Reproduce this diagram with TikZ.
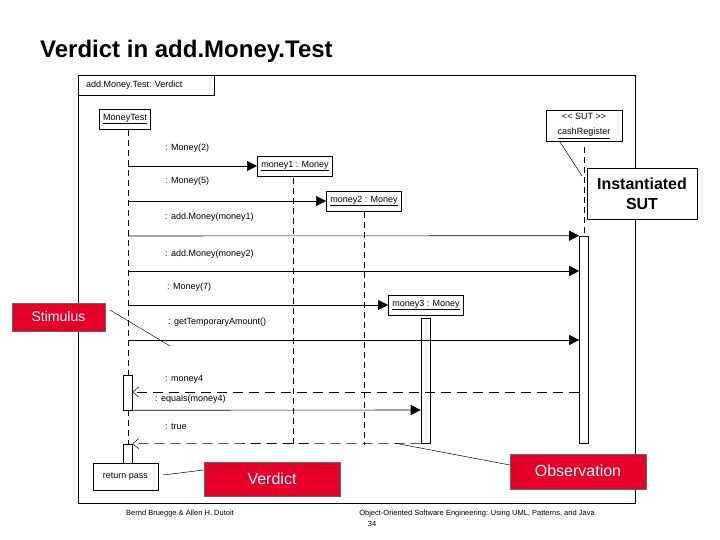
\documentclass[tikz,border=0pt]{standalone}
\usepackage{fontspec}
\setmainfont{Liberation Sans}
\usetikzlibrary{arrows.meta}
\definecolor{vred}{RGB}{230,0,40}
\begin{document}
\begin{tikzpicture}[x=1pt,y=-1pt,
  obj/.style={draw,line width=0.6pt,fill=white,inner xsep=4pt,inner ysep=5pt,font=\fontsize{9}{11}\selectfont},
  lbl/.style={anchor=west,inner sep=0pt,font=\fontsize{9}{11}\selectfont},
  life/.style={dash pattern=on 6pt off 4pt,line width=0.6pt},
  msg/.style={-{Triangle[length=10pt,width=10pt]},line width=0.6pt},
  ret/.style={-{Straight Barb[length=6pt,width=10pt,line width=0.5pt]},dash pattern=on 10pt off 6pt,line width=0.6pt},
  act/.style={draw,fill=white,line width=0.6pt},
  redbox/.style={draw=black!60,fill=vred,text=white,minimum height=28pt},
  note/.style={line width=0.5pt}]
\useasboundingbox (0,0) rectangle (720,540);
\node[anchor=west,inner sep=0pt,font=\bfseries\fontsize{24}{30}\selectfont] (title) at (40,51) {Verdict in add.Money.Test};
\draw[line width=0.7pt] (78,75) rectangle (635,503);
\node[draw,line width=0.7pt,anchor=north west,minimum width=136pt,minimum height=20pt,inner sep=0pt] (frame) at (78,75) {};
\node[lbl] (ftxt) at (86,85) {add.Money.Test: Verdict};
% lifelines
\coordinate (mtb) at (128,463);
\coordinate (m1b) at (293,445);
\coordinate (m2b) at (364,445);
\draw[life] (128,130) -- (mtb);
\draw[life] (293,178) -- (m1b);
\draw[life] (364,212) -- (m2b);
\draw[life] (584,147) -- (584,236);
% objects
\node[obj] (mt) at (125,119) {\underline{MoneyTest}};
\node[obj,align=center,minimum width=76pt,inner ysep=3pt] (cr) at (584,126) {{<}{<} SUT {>}{>}\\[4pt]\underline{cashRegister}};
\node[obj] (m1) at (295,166) {\underline{money1 : Money}};
\node[obj] (m2) at (364,201) {\underline{money2 : Money}};
\node[obj] (m3) at (426,305) {\underline{money3 : Money}};
% activations
\node[act,minimum width=9pt,minimum height=207pt,inner sep=0pt] (acr) at (584,339.5) {};
\node[act,minimum width=9pt,minimum height=125pt,inner sep=0pt] (am3) at (425.5,380.5) {};
\node[act,minimum width=9pt,minimum height=35pt,inner sep=0pt] (amt1) at (127.5,392.5) {};
\node[act,minimum width=9pt,minimum height=21pt,inner sep=0pt] (amt2) at (127.5,454.5) {};
% messages
\node[lbl] (l1) at (165,148) {: Money(2)};
\draw[msg] (128,166) -- (m1.west);
\node[lbl] (l2) at (165,181) {: Money(5)};
\draw[msg] (128,201) -- (m2.west);
\node[lbl] (l3) at (165,217) {: add.Money(money1)};
\draw[msg] (128,236) -- (acr.north west);
\node[lbl] (l4) at (165,254) {: add.Money(money2)};
\draw[msg] (128,271) -- (acr.west |- 0,271);
\node[lbl] (l5) at (167,287) {: Money(7)};
\draw[msg] (128,305) -- (m3.west);
\node[lbl] (l6) at (168,322) {: getTemporaryAmount()};
\draw[msg] (128,340) -- (acr.west |- 0,340);
\node[lbl] (l7) at (165,379) {: money4};
\draw[ret] (acr.south west |- 0,392) -- (amt1.east |- 0,392);
\node[lbl] (l8) at (155,399) {: equals(money4)};
\draw[msg] (amt1.south east) -- (am3.west |- 0,410);
\node[lbl] (l9) at (165,427) {: true};
\draw[ret] (am3.south west) -- (amt2.north east);
% return pass
\node[draw,line width=0.6pt,fill=white,minimum width=65pt,minimum height=27pt,inner sep=0pt,font=\fontsize{9}{11}\selectfont] (rp) at (125.5,476.5) {return pass};
% callouts
\node[redbox,minimum width=136pt,minimum height=34pt,font=\fontsize{16}{19}\selectfont] (verdict) at (272,479) {Verdict};
\draw[note] (163,475) -- (verdict.west |- 0,470);
\node[redbox,minimum width=136pt,minimum height=35pt,font=\fontsize{16}{19}\selectfont] (obs) at (578,472) {\raisebox{3pt}{Observation}};
\draw[note] (394,443) -- (obs.west |- 0,465);
\node[draw,fill=white,line width=0.6pt,minimum width=110pt,minimum height=51pt,align=center,font=\bfseries\fontsize{16}{20}\selectfont] (sut) at (642,193.5) {Instantiated\\SUT};
\draw[note] (560,142) -- (582,176);
\node[redbox,minimum width=93pt,font=\fontsize{14}{17}\selectfont] (stim) at (58.5,317) {\raisebox{2pt}{Stimulus}};
\draw[note] (110,310) -- (170,346);
% footer
\node[inner sep=0pt,font=\fontsize{7.5}{9}\selectfont] (f1) at (180,514) {Bernd Bruegge \& Allen H. Dutoit};
\node[inner sep=0pt,font=\fontsize{7.5}{9}\selectfont] (f2) at (477,514) {Object-Oriented Software Engineering: Using UML, Patterns, and Java};
\node[inner sep=0pt,font=\fontsize{7.5}{9}\selectfont] (f3) at (372,524) {34};
\end{tikzpicture}
\end{document}
